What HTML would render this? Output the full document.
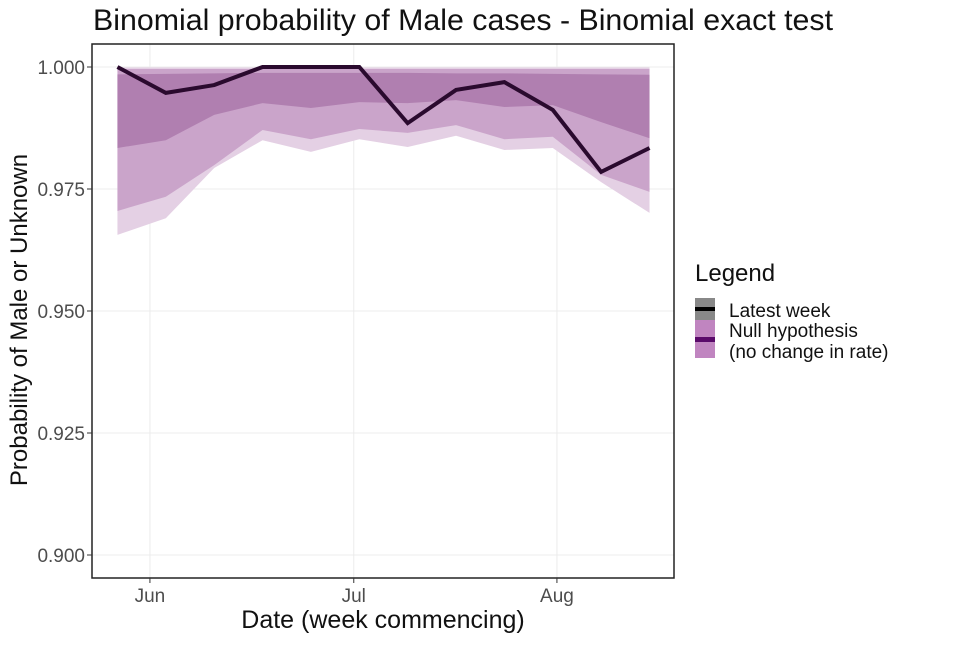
<!DOCTYPE html>
<html><head><meta charset="utf-8"><style>
body{margin:0;background:#fff;}
text{font-family:"Liberation Sans",Arial,sans-serif;}
</style></head><body>
<svg id="chart" width="960" height="640" viewBox="0 0 960 640" xmlns="http://www.w3.org/2000/svg">
<rect width="960" height="640" fill="#fff"/>
<text x="93" y="30" font-size="30" fill="#111" textLength="740" lengthAdjust="spacingAndGlyphs">Binomial probability of Male cases - Binomial exact test</text>
<g id="grid"></g>
<g id="bands"></g>
<g id="line"></g>
<rect x="92" y="44" width="582" height="534" fill="none" stroke="#222" stroke-width="1.5"/>
<g id="axes"></g>
<text x="383" y="628" font-size="25" text-anchor="middle" fill="#111">Date (week commencing)</text>
<text transform="translate(27,320) rotate(-90)" font-size="24" text-anchor="middle" fill="#111">Probability of Male or Unknown</text>
<g>
<text x="695" y="281" font-size="24" fill="#111">Legend</text>
<rect x="695" y="298" width="20" height="22" fill="#888"/>
<rect x="695" y="307" width="20" height="4" fill="#000"/>
<text x="729" y="317" font-size="19" fill="#111">Latest week</text>
<rect x="695" y="320" width="20" height="38" fill="#c085c0"/>
<rect x="695" y="337" width="20" height="5" fill="#5a0a6a"/>
<text x="729" y="337" font-size="19" fill="#111">Null hypothesis</text>
<text x="729" y="358" font-size="19" fill="#111">(no change in rate)</text>
</g>
</svg>
<script>
const dayOffsets=[-5,2,9,16,23,30,37,44,51,58,65,72];
const latest=[1.000,0.9947,0.9963,1.000,1.000,1.000,0.9885,0.9953,0.9969,0.9912,0.9785,0.9834];
const upperOuter=[0.9999,0.9999,0.9999,0.9999,0.9999,0.9999,0.9999,0.9999,0.9999,0.9999,0.9999,0.9999];
const upperMid=[0.9996,0.9996,0.9996,0.9996,0.9996,0.9996,0.9996,0.9996,0.9996,0.9996,0.9996,0.9996];
const upperInner=[0.9985,0.9986,0.9987,0.9988,0.9988,0.9988,0.9988,0.9987,0.9987,0.9986,0.9985,0.9984];
const lowerInner=[0.9834,0.9850,0.9902,0.9926,0.9916,0.9928,0.9926,0.9932,0.9918,0.9922,0.9887,0.9854];
const lowerMid=[0.9705,0.9734,0.9799,0.9871,0.9852,0.9873,0.9865,0.9881,0.9852,0.9857,0.9779,0.9744];
const lowerOuter=[0.9656,0.9690,0.9793,0.9850,0.9826,0.9852,0.9836,0.9859,0.9830,0.9834,0.9764,0.9701];
const yTicks=[0.900,0.925,0.950,0.975,1.000];
const xTickDays=[-0.3,29.2,58.6];
const xTickLabels=["Jun","Jul","Aug"];
const xs=d=>152+d*6.91;
const ys=v=>67+(1-v)/0.025*122;
const NS="http://www.w3.org/2000/svg";
function mk(tag,attrs,parent){const e=document.createElementNS(NS,tag);for(const k in attrs)e.setAttribute(k,attrs[k]);document.getElementById(parent).appendChild(e);return e;}
yTicks.forEach((t,i)=>{
 const g=mk('line',{x1:92,x2:674,y1:ys(t),y2:ys(t),stroke:'#ececec','stroke-width':1},'grid');
 
 
 const tk=mk('line',{x1:87,x2:92,y1:ys(t),y2:ys(t),stroke:'#333'},'axes');
 
 
 const tx=mk('text',{x:85,y:ys(t)+7,'font-size':19,'text-anchor':'end',fill:'#4d4d4d'},'axes');
 tx.textContent=t.toFixed(3);
 
 
});
xTickDays.forEach((d,i)=>{
 const g=mk('line',{x1:xs(d),x2:xs(d),y1:44,y2:578,stroke:'#ececec','stroke-width':1},'grid');
 
 
 const tk=mk('line',{x1:xs(d),x2:xs(d),y1:578,y2:583,stroke:'#333'},'axes');
 
 
 const tx=mk('text',{x:xs(d),y:602,'font-size':19,'text-anchor':'middle',fill:'#4d4d4d'},'axes');
 tx.textContent=xTickLabels[i];
 
 
});
function band(up,lo,color,name){
 let p=dayOffsets.map((d,i)=>xs(d)+','+ys(up[i]));
 let q=dayOffsets.map((d,i)=>xs(d)+','+ys(lo[i])).reverse();
 const e=mk('polygon',{points:p.concat(q).join(' '),fill:color},'bands');
 
 
}
band(upperOuter,lowerOuter,'#e4d0e4','band-outer');
band(upperMid,lowerMid,'#caa4ca','band-middle');
band(upperInner,lowerInner,'#b07fb0','band-inner');
const l=mk('polyline',{points:dayOffsets.map((d,i)=>xs(d)+','+ys(latest[i])).join(' '),fill:'none',stroke:'#2a0a2e','stroke-width':4,'stroke-linejoin':'miter'},'line');


</script>
</body></html>
